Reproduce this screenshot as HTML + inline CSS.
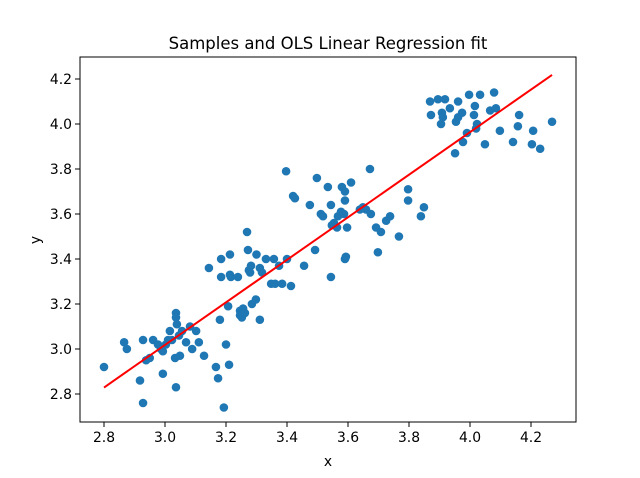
<!DOCTYPE html>
<html><head><meta charset="utf-8"><style>
html,body{margin:0;padding:0;background:#fff}
svg{display:block;font-family:"DejaVu Sans","Liberation Sans",sans-serif}
</style></head><body>
<svg id="chart" width="640" height="478" viewBox="0 0 640 478">
<rect width="640" height="478" fill="#fff"/>
<text x="328" y="49" text-anchor="middle" font-size="16.5">Samples and OLS Linear Regression fit</text>
<g id="plot"></g>
<text x="328" y="466" text-anchor="middle" font-size="13.9">x</text>
<text x="0" y="0" transform="translate(40,240) rotate(-90)" text-anchor="middle" font-size="13.9">y</text>
</svg>
<script>
const xs=[2.80,2.866,2.875,2.918,2.928,2.928,2.938,2.95,2.961,2.977,2.987,2.993,2.993,3.003,3.01,3.016,3.023,3.033,3.036,3.036,3.036,3.039,3.046,3.049,3.056,3.069,3.082,3.089,3.102,3.111,3.128,3.144,3.167,3.174,3.18,3.184,3.184,3.193,3.2,3.207,3.21,3.213,3.213,3.216,3.239,3.246,3.246,3.252,3.256,3.262,3.269,3.272,3.275,3.279,3.282,3.285,3.298,3.30,3.311,3.311,3.318,3.331,3.348,3.357,3.361,3.374,3.384,3.397,3.40,3.413,3.42,3.426,3.456,3.475,3.492,3.498,3.511,3.518,3.534,3.544,3.544,3.547,3.554,3.564,3.567,3.577,3.58,3.587,3.59,3.59,3.59,3.593,3.597,3.61,3.639,3.649,3.659,3.672,3.675,3.692,3.698,3.708,3.725,3.738,3.767,3.797,3.797,3.839,3.849,3.869,3.895,3.918,3.872,3.908,3.911,3.905,3.934,3.961,3.954,3.961,3.974,3.997,3.99,3.977,3.951,4.033,4.016,4.013,4.023,4.02,4.049,4.079,4.066,4.085,4.098,4.161,4.157,4.141,4.207,4.203,4.23,4.269];
const ys=[2.92,3.03,3.00,2.86,2.76,3.04,2.95,2.96,3.04,3.02,3.00,2.89,2.99,3.02,3.04,3.08,3.04,2.96,3.16,3.14,2.83,3.11,3.06,2.97,3.08,3.03,3.10,3.00,3.08,3.03,2.97,3.36,2.92,2.87,3.13,3.40,3.32,2.74,3.02,3.19,2.93,3.42,3.33,3.32,3.32,3.17,3.15,3.14,3.18,3.16,3.52,3.44,3.35,3.34,3.37,3.20,3.22,3.42,3.36,3.13,3.34,3.40,3.29,3.40,3.29,3.37,3.29,3.79,3.40,3.28,3.68,3.67,3.37,3.64,3.44,3.76,3.60,3.59,3.72,3.32,3.64,3.55,3.56,3.54,3.59,3.61,3.72,3.60,3.70,3.66,3.40,3.41,3.54,3.74,3.62,3.63,3.62,3.80,3.60,3.54,3.43,3.52,3.57,3.59,3.50,3.71,3.66,3.59,3.63,4.10,4.11,4.11,4.04,4.05,4.03,4.00,4.07,4.10,4.01,4.03,4.05,4.13,3.96,3.92,3.87,4.13,4.08,4.04,4.00,3.98,3.91,4.14,4.06,4.07,3.97,4.04,3.99,3.92,3.97,3.91,3.89,4.01];
const xTicks=[2.8,3.0,3.2,3.4,3.6,3.8,4.0,4.2];
const yTicks=[2.8,3.0,3.2,3.4,3.6,3.8,4.0,4.2];

const L=80,R=576,T=57,B=422;
const sx=v=>104+(v-2.8)*305;
const sy=v=>394-(v-2.8)*225;
const NS='http://www.w3.org/2000/svg';
const g=document.getElementById('plot');
function mk(t,a){const e=document.createElementNS(NS,t);for(const k in a)e.setAttribute(k,a[k]);return e;}

xTicks.forEach(t=>{
  const x=sx(t);
  const l=mk('line',{x1:x,x2:x,y1:B,y2:B+5,stroke:'#000','stroke-width':1});
  
  
  g.appendChild(l);
  const tx=mk('text',{x:x,y:B+20,'text-anchor':'middle','font-size':13.9});
  tx.textContent=t.toFixed(1);
  
  
  g.appendChild(tx);
});
yTicks.forEach(t=>{
  const y=sy(t);
  const l=mk('line',{x1:L-5,x2:L,y1:y,y2:y,stroke:'#000','stroke-width':1});
  
  
  g.appendChild(l);
  const tx=mk('text',{x:L-8,y:y+5,'text-anchor':'end','font-size':13.9});
  tx.textContent=t.toFixed(1);
  
  
  g.appendChild(tx);
});

xs.forEach((v,i)=>{
  const c=mk('circle',{cx:sx(v),cy:sy(ys[i]),r:4.3,fill:'#1f77b4'});
  
  
  g.appendChild(c);
});

// OLS fit
const n=xs.length,mx=xs.reduce((a,b)=>a+b)/n,my=ys.reduce((a,b)=>a+b)/n;
let num=0,den=0;xs.forEach((v,i)=>{num+=(v-mx)*(ys[i]-my);den+=(v-mx)*(v-mx);});
const b=num/den,a=my-b*mx;
const x0=Math.min(...xs),x1=Math.max(...xs);
const fl=mk('line',{x1:sx(x0),y1:sy(a+b*x0),x2:sx(x1),y2:sy(a+b*x1),stroke:'#ff0000','stroke-width':2});


g.appendChild(fl);

const fr=mk('rect',{x:L,y:T,width:R-L,height:B-T,fill:'none',stroke:'#000','stroke-width':1});


g.appendChild(fr);
</script>
</body></html>
